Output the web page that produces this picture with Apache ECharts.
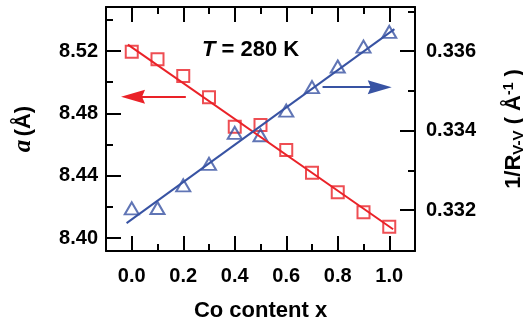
<!DOCTYPE html>
<html>
<head>
<meta charset="utf-8">
<script src="https://cdn.jsdelivr.net/npm/echarts@6/dist/echarts.min.js"></script>
<style>
  html, body { margin: 0; padding: 0; background: #ffffff; }
  #chart { width: 523px; height: 322px; }
</style>
</head>
<body>
<div id="chart"></div>
<script>
// Co content x
const coContent = [0.0, 0.1, 0.2, 0.3, 0.4, 0.5, 0.6, 0.7, 0.8, 0.9, 1.0]
// lattice parameter a (Å), left axis
const latticeA = [8.5196, 8.5147, 8.5040, 8.4903, 8.4714, 8.4725, 8.4565, 8.4419, 8.4293, 8.4165, 8.4073]
// 1/R_V-V (Å^-1), right axis
const invRvv = [0.33204, 0.33205, 0.33262, 0.33316, 0.33394, 0.33388, 0.33450, 0.33509, 0.33561, 0.33611, 0.33648]
// straight fit lines, end points
const fitAx = [-0.015, 1.015]
const fitA = [8.5241, 8.4056]
const fitRx = [-0.02, 1.02]
const fitR = [0.33167, 0.33655]

// ticks
const xMajor = [0.0, 0.2, 0.4, 0.6, 0.8, 1.0]
const xMinor = [-0.1, 0.1, 0.3, 0.5, 0.7, 0.9, 1.1]
const aMajor = [8.40, 8.44, 8.48, 8.52]
const aMinor = [8.42, 8.46, 8.50, 8.54]
const rMajor = [0.332, 0.334, 0.336]
const rMinor = [0.333, 0.335, 0.337]

const RED = '#ea2228'
const BLUE = '#3853a3'
const FONT = '"Liberation Sans", Arial, sans-serif'

const xRange = { min: -0.1, max: 1.1 }
const aRange = { min: 8.39166, max: 8.54824 }
const rRange = { min: 0.330969, max: 0.337107 }

const chart = echarts.init(document.getElementById('chart'), null, { renderer: 'canvas' })

const tickStyle = { color: '#000', width: 2 }
const labelStyle = { color: '#000', fontFamily: FONT, fontWeight: 'bold', fontSize: 20 }

// major axis: line + long ticks (+ labels); minor axis: short ticks only
const majorAxis = (range, ticks, position, extra) => Object.assign({
  type: 'value',
  position: position,
  min: range.min,
  max: range.max,
  axisLine: { show: true, onZero: false, lineStyle: { color: '#000', width: 2 } },
  axisTick: { show: true, inside: true, length: 15, lineStyle: tickStyle, customValues: ticks },
  axisLabel: { show: false },
  splitLine: { show: false },
}, extra)

const minorAxis = (range, ticks, position) => ({
  type: 'value',
  position: position,
  min: range.min,
  max: range.max,
  axisLine: { show: false, onZero: false },
  axisTick: { show: true, inside: true, length: 7, lineStyle: tickStyle, customValues: ticks },
  axisLabel: { show: false },
  splitLine: { show: false },
})

const arrowHead = 'path://M5,0 L10,24 L5,21 L0,24 Z'

const option = {
  animation: false,
  grid: { left: 106, right: 108, top: 7, bottom: 71, containLabel: false, outerBoundsMode: 'none' },
  xAxis: [
    majorAxis(xRange, xMajor, 'bottom', {
      axisLabel: Object.assign({ show: true, margin: 15, customValues: xMajor, formatter: v => v.toFixed(1) }, labelStyle),
      name: 'Co content x',
      nameLocation: 'middle',
      nameGap: 49,
      nameTextStyle: { color: '#000', fontFamily: FONT, fontWeight: 'bold', fontSize: 22 },
    }),
    minorAxis(xRange, xMinor, 'bottom'),
    majorAxis(xRange, xMajor, 'top', {}),
    minorAxis(xRange, xMinor, 'top'),
  ],
  yAxis: [
    majorAxis(aRange, aMajor, 'left', {
      axisLabel: Object.assign({ show: true, margin: 8, customValues: aMajor, formatter: v => v.toFixed(2) }, labelStyle),
      name: '{i|a} {b|(Å)}',
      nameLocation: 'middle',
      nameRotate: 90,
      nameGap: 70,
      nameTextStyle: {
        rich: {
          i: { fontFamily: '"Liberation Serif", serif', fontStyle: 'italic', fontWeight: 'bold', fontSize: 25, color: '#000' },
          b: { fontFamily: FONT, fontWeight: 'bold', fontSize: 22, color: '#000' },
        },
      },
    }),
    minorAxis(aRange, aMinor, 'left'),
    majorAxis(rRange, rMajor, 'right', {
      axisLabel: Object.assign({ show: true, margin: 11, customValues: rMajor, formatter: v => v.toFixed(3) }, labelStyle),
      name: '{b|1/R}{sub|V-V}{b| ( Å}{sup|-1}{b| )}',
      nameLocation: 'middle',
      nameRotate: 90,
      nameGap: 87,
      nameTextStyle: {
        rich: {
          b: { fontFamily: FONT, fontWeight: 'bold', fontSize: 22, lineHeight: 24, color: '#000' },
          sub: { fontFamily: FONT, fontWeight: 'bold', fontSize: 15, lineHeight: 10, verticalAlign: 'bottom', color: '#000' },
          sup: { fontFamily: FONT, fontWeight: 'bold', fontSize: 14, lineHeight: 12, verticalAlign: 'top', color: '#000' },
        },
      },
    }),
    minorAxis(rRange, rMinor, 'right'),
  ],
  series: [
    {
      type: 'line',
      xAxisIndex: 0,
      yAxisIndex: 0,
      data: fitAx.map((x, i) => [x, fitA[i]]),
      symbol: 'none',
      lineStyle: { color: RED, width: 2 },
      silent: true,
      markLine: {
        silent: true,
        symbol: ['none', arrowHead],
        symbolSize: [14, 24],
        label: { show: false },
        lineStyle: { color: RED, width: 2, type: 'solid' },
        itemStyle: { color: RED },
        data: [[{ coord: [0.210, 8.4907] }, { coord: [0.005, 8.4907] }]],
      },
    },
    {
      type: 'line',
      xAxisIndex: 0,
      yAxisIndex: 2,
      data: fitRx.map((x, i) => [x, fitR[i]]),
      symbol: 'none',
      lineStyle: { color: BLUE, width: 2 },
      silent: true,
      markLine: {
        silent: true,
        symbol: ['none', arrowHead],
        symbolSize: [14, 24],
        label: { show: false },
        lineStyle: { color: BLUE, width: 2, type: 'solid' },
        itemStyle: { color: BLUE },
        data: [[{ coord: [0.741, 0.33509] }, { coord: [0.963, 0.33509] }]],
      },
    },
    {
      type: 'scatter',
      xAxisIndex: 0,
      yAxisIndex: 0,
      data: coContent.map((x, i) => [x, latticeA[i]]),
      symbol: 'rect',
      symbolSize: 12,
      itemStyle: { color: 'rgba(0,0,0,0)', borderColor: RED, borderWidth: 2 },
    },
    {
      type: 'scatter',
      xAxisIndex: 0,
      yAxisIndex: 2,
      data: coContent.map((x, i) => [x, invRvv[i]]),
      symbol: 'triangle',
      symbolSize: [14, 12],
      itemStyle: { color: 'rgba(0,0,0,0)', borderColor: BLUE, borderWidth: 2 },
    },
  ],
  graphic: [
    {
      type: 'text',
      left: 202,
      top: 39,
      style: {
        text: '{i|T}{b| = 280 K}',
        rich: {
          i: { fontFamily: FONT, fontStyle: 'italic', fontWeight: 'bold', fontSize: 22, fill: '#000' },
          b: { fontFamily: FONT, fontWeight: 'bold', fontSize: 22, fill: '#000' },
        },
      },
    },
  ],
}

chart.setOption(option)
</script>
</body>
</html>
